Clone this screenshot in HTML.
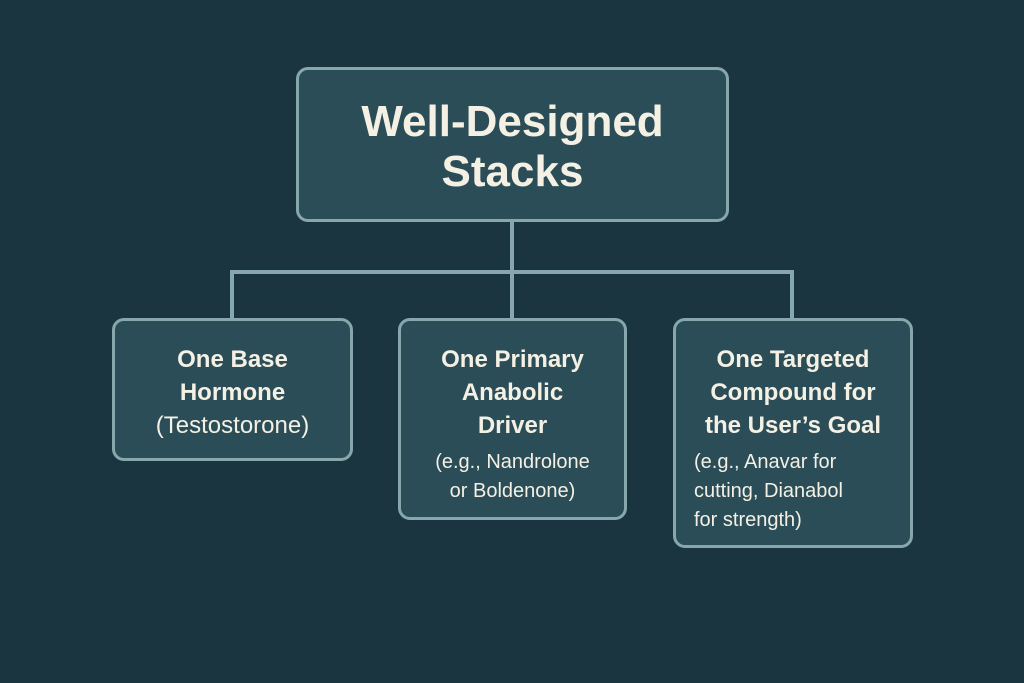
<!DOCTYPE html>
<html><head><style>
body{margin:0;width:1024px;height:683px;background:#1b3540;font-family:"Liberation Sans",sans-serif;overflow:hidden;position:relative}
.b{position:absolute;box-sizing:border-box;border:3px solid #86a7ac;border-radius:12px;background:#2a4d58;color:#f4f0e4;text-align:center}
.h{font-weight:bold;font-size:24px;line-height:33px}
.s{font-size:20px;line-height:29px}
.l{position:absolute;background:#86a7ac}
</style></head><body>
<div class="l" style="left:510px;top:220px;width:4px;height:54px"></div>
<div class="l" style="left:230px;top:270px;width:564px;height:4px"></div>
<div class="l" style="left:230px;top:270px;width:4px;height:50px"></div>
<div class="l" style="left:510px;top:270px;width:4px;height:50px"></div>
<div class="l" style="left:790px;top:270px;width:4px;height:50px"></div>
<div class="b" style="left:296px;top:67px;width:433px;height:155px;padding-top:27px;font-size:44px;font-weight:bold;line-height:50px">Well-Designed<br>Stacks</div>
<div class="b" style="left:112px;top:318px;width:241px;height:143px;padding-top:22px"><div class="h">One Base<br>Hormone</div><div class="h" style="font-weight:normal">(Testostorone)</div></div>
<div class="b" style="left:398px;top:318px;width:229px;height:202px;padding-top:22px"><div class="h">One Primary<br>Anabolic<br>Driver</div><div class="s" style="margin-top:6px">(e.g., Nandrolone<br>or Boldenone)</div></div>
<div class="b" style="left:673px;top:318px;width:240px;height:230px;padding-top:22px"><div class="h">One Targeted<br>Compound for<br>the User’s Goal</div><div class="s" style="margin-top:6px;text-align:left;padding-left:18px">(e.g., Anavar for<br>cutting, Dianabol<br>for strength)</div></div>
</body></html>
